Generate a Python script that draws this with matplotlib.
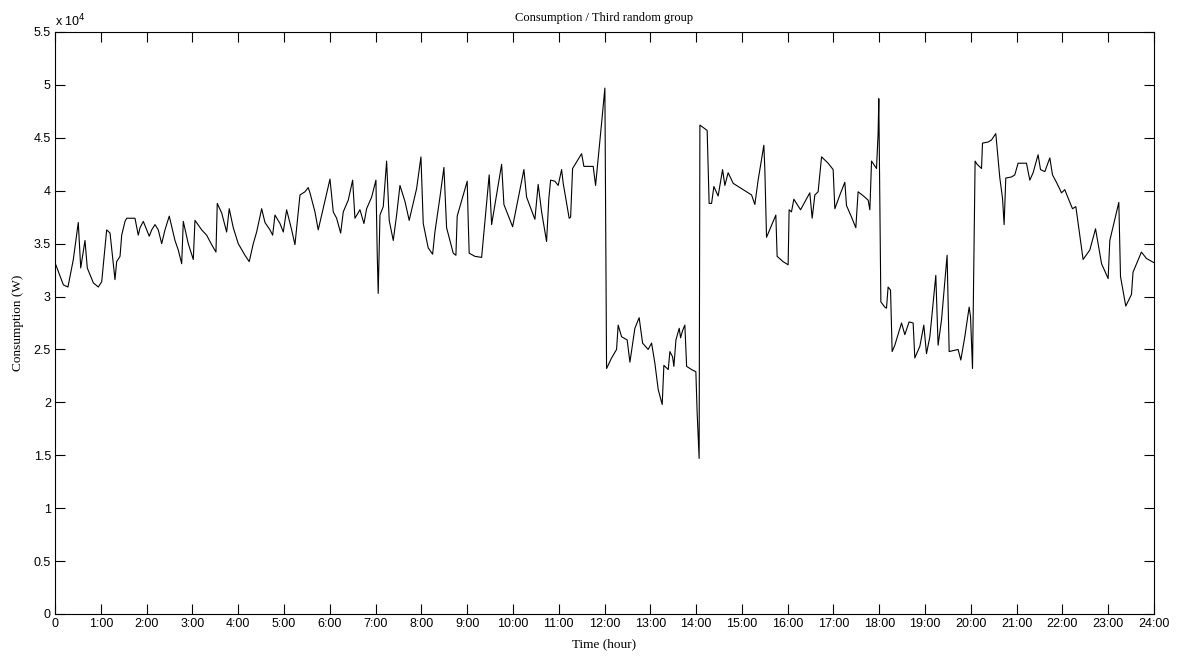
import matplotlib
matplotlib.use("Agg")
import matplotlib.pyplot as plt
from matplotlib.ticker import FuncFormatter, FixedLocator

# Time of each sample in minutes after midnight
minutes = [0, 11, 17, 24, 30.5, 33.7, 39.3, 42.3, 50.2, 56.7, 61.2, 67.7, 72.1, 78.6, 80.8, 85.2, 87.4, 91.7,
           93.9, 104.8, 109.1, 111.4, 115.7, 123.5, 126.7,
           131, 135.3, 139.8, 144.1, 149.7, 157.2, 161.5, 166, 168.1, 174.6, 181.2, 183.4, 192.2, 198.7,
           205.3, 210.9, 212.6, 218.4, 224.9, 228.3, 233.6, 240.1, 248.9, 254.5,
           259.8, 264.2, 270.8, 275.1, 281.7, 285.2, 288.2, 294.8, 299.1, 303.5, 310.1, 314.4, 321, 327.5,
           331.8, 334.1, 340.6, 344.9, 360.3, 364.6, 369, 374.3, 377.7, 384.2, 390,
           393, 399.6, 404.8, 408.3, 414.9, 420.5, 422.2, 423.5, 425.8, 430.1, 434.5, 437.9, 443.2, 447.6,
           452, 458.5, 464.1, 473.8, 479.5, 482.5, 489, 494.8, 497.8, 504.4, 509.6, 513.1, 519.7,
           521.8, 525.3, 527, 540.1, 541.4, 542.7, 550.2, 559, 568.9, 572.1, 578.6, 585.2, 588.2, 599.6,
           614.4, 617.9, 628.8, 633.1, 637.6, 644.1, 647.1, 649.4, 655,
           659.3, 663.8, 665.9, 673.7, 675.6, 678.2, 690, 693, 705.2, 708.3, 711.7, 716.2, 720.5, 722.7,
           729.3, 735.8, 737.9, 742.4, 749.7, 753.3, 759.8, 765.4, 769.9, 777.2, 781.7,
           786, 790.4, 795.6, 797.8, 803.5, 805.7, 809.2, 810.9, 813.6, 817.9, 819.7, 822.4, 825.3, 827.6,
           834.1, 839.7, 841.4, 844, 845, 854.5, 857.1, 860.3, 863.3, 868.9, 874.7, 877.7, 882, 888.6,
           901.7, 912.7,
           917, 921.3, 928.8, 930.1, 932.3, 937.5, 944.5, 946.2, 954, 960.6, 961.9, 965, 968.1, 976.9,
           989, 992.1, 995.6, 999.9, 1004.4, 1013, 1019.6, 1021.8, 1028.4, 1034.9, 1037.1, 1043.7,
           1049.3, 1052.3, 1061.1, 1065.5, 1067.7, 1069.9, 1076.4, 1078.5, 1079.4, 1082.1, 1087.3, 1089.5,
           1091.6, 1094.8, 1096.9, 1100.4, 1109.2, 1113.5, 1119.1, 1124.4, 1126.6, 1133.2, 1138.4, 1141.9,
           1146.3, 1154.1, 1157.1, 1161.6, 1168.9, 1171.6,
           1183.3, 1186.9, 1192.1, 1197.8, 1199.6, 1202.2, 1205.6, 1208.2, 1214, 1215.3, 1222.6, 1227.1,
           1232.7, 1238, 1241.5, 1243.6, 1245.8, 1253.3, 1257.6, 1261.9, 1272.9, 1277.3, 1281.6, 1288.1,
           1291.3, 1296.9, 1303.5,
           1307, 1312.2, 1318.8, 1323.1, 1327.5, 1333.2, 1337.6, 1347.1, 1355.9, 1363.4, 1371.3, 1379.9,
           1382.1, 1393.9, 1396.1, 1403, 1410.5, 1412.5, 1423.5, 1430.1, 1440]

# Consumption in watts
consumption = [33200, 31100, 30900, 33500, 37000, 32700, 35300, 32700, 31300, 30900, 31400, 36300, 36000,
               31600, 33300, 33800, 35800, 37100, 37400, 37400, 35800, 36500, 37100, 35700, 36300,
               36800, 36300, 35000, 36300, 37600, 35300, 34400, 33100, 37100, 35000, 33500, 37200, 36300,
               35800, 34900, 34200, 38800, 37900, 36100, 38300, 36500, 35000, 33900, 33300,
               35000, 36100, 38300, 37000, 36300, 35800, 37700, 36900, 36100, 38200, 36300, 34900, 39600,
               39900, 40300, 39800, 38000, 36300, 41100, 38000, 37400, 36000, 38000, 39100, 41000,
               37400, 38200, 36900, 38300, 39400, 41000, 34100, 30300, 37700, 38500, 42800, 37200, 35300,
               37700, 40500, 39000, 37200, 40200, 43200, 36900, 34600, 34000, 36100, 39400, 42200, 36500,
               34700,
               34100, 33900, 37600, 40900, 37200, 34100, 33800, 33700, 41500, 36800, 39600, 42500, 38700,
               36600, 42000, 39400, 37300, 40600, 38000, 35200, 39300, 41000, 40900,
               40500, 42000, 40700, 37400, 37500, 42100, 43500, 42300, 42300, 40500, 43000, 46400, 49700,
               23200, 24200, 25000, 27300, 26200, 25900, 23800, 27000, 28000, 25600, 25000, 25600,
               23700, 21200, 19800, 23500, 23100, 24800, 24300, 23400, 25900, 27000, 26100, 26800, 27300,
               23400, 23100, 22900, 19000, 14700, 46200, 45700, 38800, 38800, 40400, 39500, 42000, 40500,
               41700, 40700, 40100, 39600,
               38700, 41000, 44300, 42000, 35600, 36500, 37700, 33800, 33300, 33000, 38200, 38000, 39200,
               38200, 39800, 37400, 39600, 39900, 43200, 42600, 42000, 38300, 39600, 40800, 38600, 37500,
               36500, 39900, 39400, 39100, 38200, 42800, 42100, 45400, 48700, 29500, 29000, 28900, 30900,
               30600, 24800, 25400, 27500, 26400, 27600, 27500, 24200, 25300, 27300, 24600, 26200, 32000,
               25400, 27800, 33900, 24800,
               25000, 24000, 26200, 29000, 28100, 23200, 42800, 42500, 42100, 44500, 44600, 44800, 45400,
               41200, 39300, 36800, 41200, 41300, 41500, 42600, 42600, 41000, 41700, 43400, 42000, 41800,
               43100,
               41500, 40800, 39800, 40100, 39300, 38300, 38500, 33500, 34400, 36400, 33100, 31700, 35300,
               38900, 31900, 29100, 30200, 32300, 34200, 33600, 33200]

xtick_hours = list(range(25))
xtick_labels = ["0"] + [f"{h}:00" for h in range(1, 25)]
ytick_values = [i * 5000 for i in range(12)]

hours = [m / 60 for m in minutes]

fig = plt.figure(figsize=(11.79, 6.60), dpi=100)
ax = fig.add_axes([55 / 1179, 1 - 614 / 660, (1154 - 55) / 1179, (614 - 32) / 660])
ax.plot(hours, consumption, color="black", linewidth=0.8)

ax.set_xlim(0, 24)
ax.set_ylim(0, 55000)
ax.xaxis.set_major_locator(FixedLocator(xtick_hours))
ax.set_xticklabels(xtick_labels)
ax.yaxis.set_major_locator(FixedLocator(ytick_values))
ax.yaxis.set_major_formatter(FuncFormatter(lambda v, p: f"{v / 1e4:g}"))

ax.tick_params(direction="in", length=7, width=0.8, top=True, right=True,
               labelsize=9, pad=3)
for lab in ax.get_xticklabels() + ax.get_yticklabels():
    lab.set_fontfamily("Liberation Sans")
for s in ax.spines.values():
    s.set_linewidth(0.8)

ax.text(0.0, 1.005, "x 10$^{4}$", transform=ax.transAxes, fontsize=9,
        family="Liberation Sans", ha="left", va="bottom")

ax.set_title("Consumption / Third random group", family="Liberation Serif",
             fontsize=9, pad=8)
ax.set_xlabel("Time (hour)", family="Liberation Serif", fontsize=9.5, labelpad=6)
ax.set_ylabel("Consumption (W)", family="Liberation Serif", fontsize=9.5, labelpad=7)

fig.savefig("out.png", dpi=100)
